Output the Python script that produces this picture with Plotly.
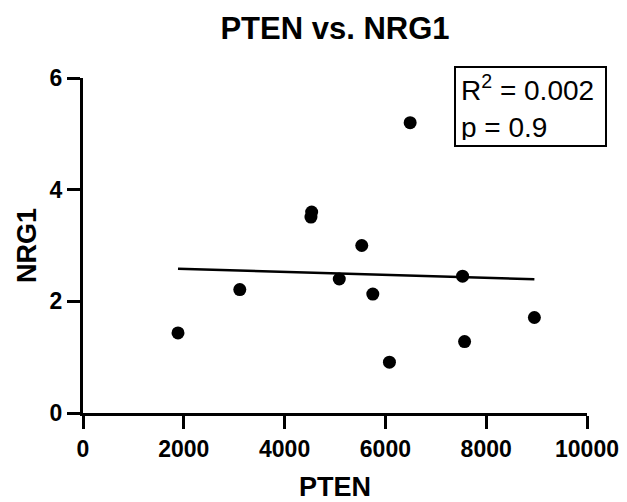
import numpy as np
import plotly.graph_objects as go

# Data
pten = [1885, 3111, 4523, 4537, 5085, 5531, 5750, 6080, 6491, 7531, 7571, 8956]
nrg1 = [1.435, 2.21, 3.51, 3.60, 2.40, 3.00, 2.13, 0.91, 5.20, 2.45, 1.28, 1.71]
x_ticks = [0, 2000, 4000, 6000, 8000, 10000]
y_ticks = [0, 2, 4, 6]
stats_text = "R<sup>2</sup> = 0.002<br>p = 0.9"

# Linear regression fit
slope, intercept = np.polyfit(pten, nrg1, 1)
fit_x = [min(pten), max(pten)]
fit_y = [slope * v + intercept for v in fit_x]

FONT = "Liberation Sans, Arial, sans-serif"

fig = go.Figure()
fig.add_trace(go.Scatter(
    x=fit_x, y=fit_y, mode="lines",
    line=dict(color="black", width=2.5), showlegend=False, hoverinfo="skip"))
fig.add_trace(go.Scatter(
    x=pten, y=nrg1, mode="markers",
    marker=dict(color="black", size=13), showlegend=False))

fig.update_layout(
    width=627, height=502,
    margin=dict(l=83, r=40, t=78, b=89),
    paper_bgcolor="white", plot_bgcolor="white",
    font=dict(family=FONT, color="black"),
    title=dict(text="<b>PTEN vs. NRG1</b>", x=0.5, xref="paper",
               xanchor="center", y=1 - 28 / 502, yanchor="middle",
               font=dict(size=31, family=FONT, color="black")),
    xaxis=dict(range=[0, 10000], tickvals=x_ticks,
               ticktext=[f"<b>{v}</b>" for v in x_ticks],
               showline=True, linecolor="black", linewidth=3,
               ticks="outside", ticklen=13, tickwidth=3, tickcolor="black",
               showgrid=False, zeroline=False, automargin=False,
               tickfont=dict(size=23, family=FONT, color="black"),
               title=dict(text="<b>PTEN</b>", standoff=18,
                          font=dict(size=27, family=FONT, color="black"))),
    yaxis=dict(range=[0, 6], tickvals=y_ticks,
               ticktext=[f"<b>{v}</b>" for v in y_ticks],
               showline=True, linecolor="black", linewidth=3,
               ticks="outside", ticklen=13, tickwidth=3, tickcolor="black",
               showgrid=False, zeroline=False, automargin=False,
               tickfont=dict(size=23, family=FONT, color="black"),
               title=dict(text="<b>NRG1</b>", standoff=6,
                          font=dict(size=27, family=FONT, color="black"))),
)

fig.add_annotation(
    text=stats_text, xref="paper", yref="paper",
    x=(530.6 - 83) / 504, y=(413 - 106.7) / 335,
    xanchor="center", yanchor="middle", showarrow=False, align="left",
    width=139, height=67, borderpad=5, bordercolor="black", borderwidth=2,
    font=dict(size=28, family=FONT, color="black"))

fig.write_html("out.html", config={"displayModeBar": False},
               post_script="document.body.style.margin='0';")
